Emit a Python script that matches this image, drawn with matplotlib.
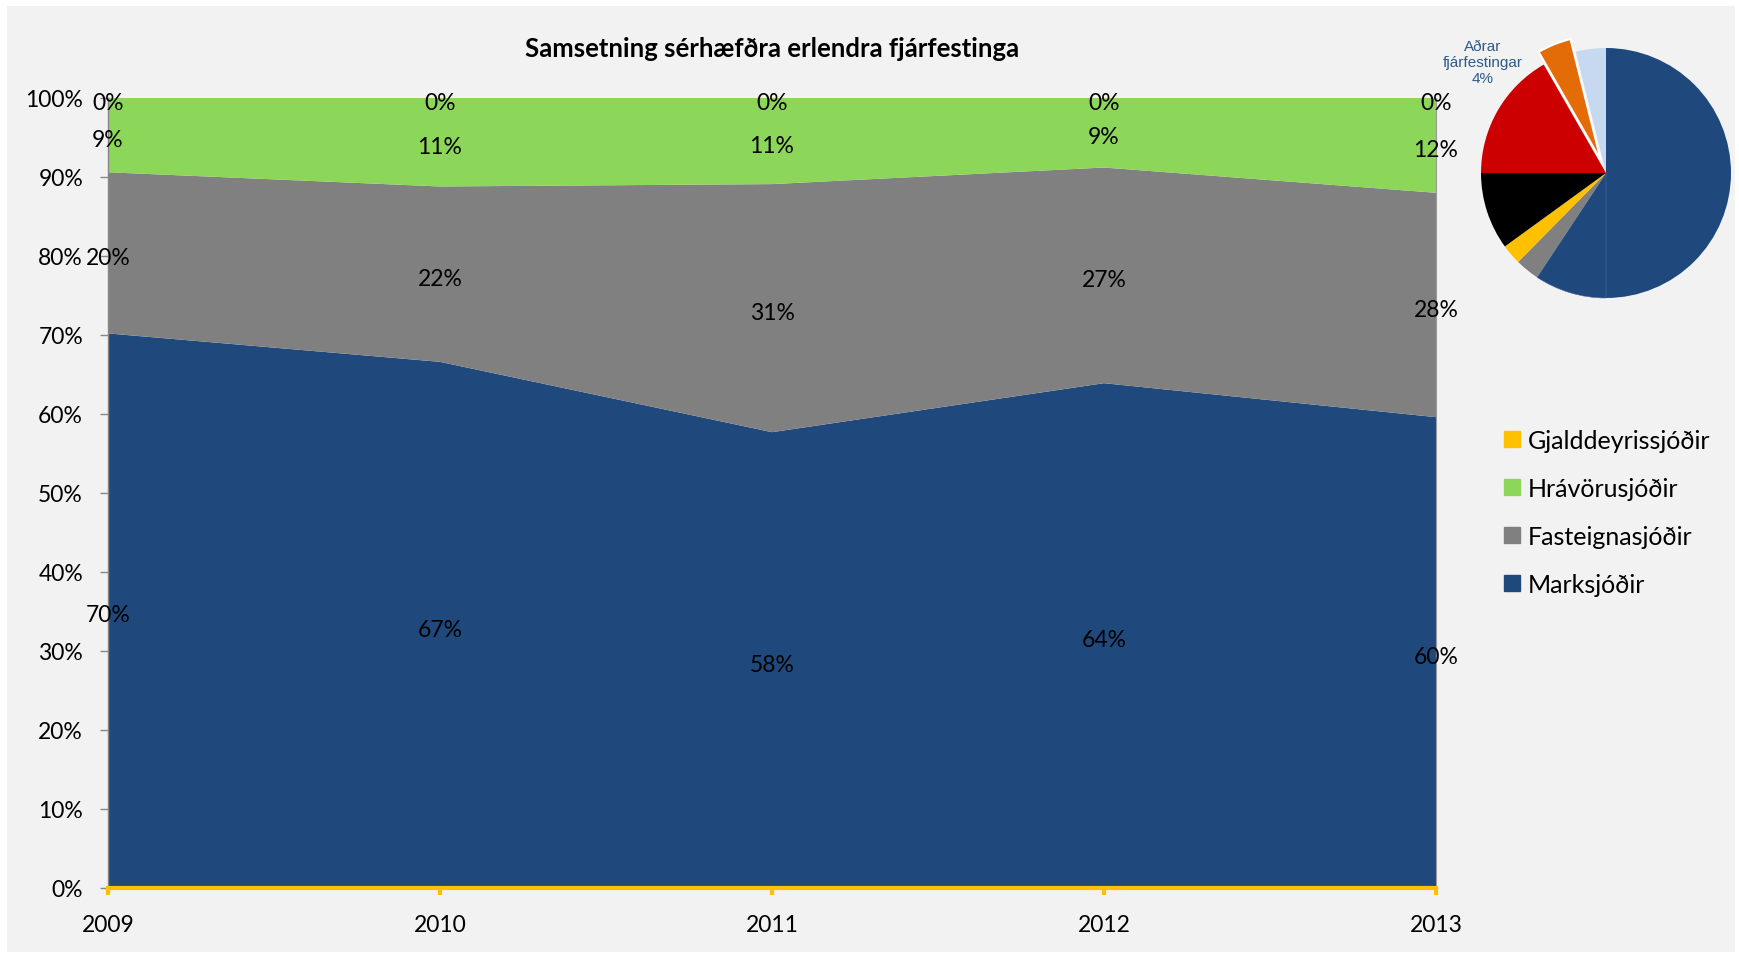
import numpy as np
import matplotlib.pyplot as plt
from matplotlib.patches import Rectangle
from matplotlib.lines import Line2D

plt.rcParams["font.family"] = ["Lato", "DejaVu Sans"]

# Samsetning eftir árum (% af heild)
ar = ["2009", "2010", "2011", "2012", "2013"]
marksjodir = [70.2, 66.6, 57.7, 63.9, 59.6]
fasteignasjodir = [20.4, 22.2, 31.4, 27.3, 28.4]
hravorusjodir = [9.4, 11.2, 10.9, 8.8, 12.0]
gjalddeyrissjodir = [0.0, 0.0, 0.0, 0.0, 0.0]

flokkar = ["Marksjóðir", "Fasteignasjóðir", "Hrávörusjóðir", "Gjalddeyrissjóðir"]
litir = ["#1F497D", "#808080", "#8CD65A", "#FFC000"]

# Skifurit: heildareignir
koku_gildi = [50.0, 9.3, 3.1, 2.6, 10.0, 16.7, 4.4, 3.9]
koku_litir = ["#1F497D", "#1F497D", "#808080", "#FFC000", "#000000",
              "#CC0000", "#E36C09", "#C6D9F1"]
adrar_idx = 6

W, H = 1739, 954
fig = plt.figure(figsize=(W / 100, H / 100), dpi=100)
fig.patch.set_facecolor("white")
fig.add_artist(Rectangle((7 / W, 1 / H), (1735 - 7) / W, (953 - 7) / H,
                         transform=fig.transFigure, facecolor="#F2F2F2",
                         edgecolor="none", zorder=0))

ax = fig.add_axes([108 / W, 1 - 889 / H, (1436 - 108) / W, (889 - 99) / H])
ax.set_facecolor("none")
x = np.arange(len(ar))
radir = [marksjodir, fasteignasjodir, hravorusjodir, gjalddeyrissjodir]
ax.stackplot(x, *radir, colors=litir, linewidth=0)

# gildismerki í miðju hvers lags
botn = np.zeros(len(ar))
for gildi in radir:
    gildi = np.array(gildi)
    for i, v in enumerate(gildi):
        ax.annotate(f"{v:.0f}%", (x[i], botn[i] + v / 2), xytext=(0, -3),
                    textcoords="offset points", ha="center", va="center",
                    fontsize=16.5, color="black", zorder=5)
    botn += gildi

ax.set_xlim(0, len(ar) - 1)
ax.set_ylim(0, 100)
ax.set_yticks(np.arange(0, 101, 10))
ax.set_yticklabels([f"{t}%" for t in range(0, 101, 10)])
ax.set_xticks(x)
ax.set_xticklabels(ar)
ax.tick_params(axis="y", labelsize=16.5, length=6, width=1, color="#868686", pad=12)
ax.tick_params(axis="x", labelsize=16.5, length=5, width=3, color="#FFC000", pad=14)
ax.spines["top"].set_visible(False)
ax.spines["left"].set_color("#868686")
ax.spines["left"].set_linewidth(1)
ax.spines["right"].set_color("#999999")
ax.spines["right"].set_linewidth(0.8)
ax.spines["bottom"].set_color("#FFC000")
ax.spines["bottom"].set_linewidth(3)

fig.text((108 + 1436) / 2 / W, 1 - 49 / H, "Samsetning sérhæfðra erlendra fjárfestinga",
         ha="center", va="center", fontsize=18.5, fontweight="bold")

# skýringar
handles = [Line2D([], [], marker="s", linestyle="none", markersize=11,
                  markerfacecolor=c, markeredgecolor=c)
           for c in litir[::-1]]
fig.legend(handles, flokkar[::-1], loc="upper left",
           bbox_to_anchor=(1502 / W, 1 - 430 / H), frameon=False,
           fontsize=18, handlelength=0.8, handletextpad=0.25, labelspacing=1.0,
           borderpad=0, borderaxespad=0)

# skifurit
r_px = 125
cx, cy = 1606, 174
box = 1.25 * r_px
pax = fig.add_axes([(cx - box) / W, 1 - (cy + box) / H, 2 * box / W, 2 * box / H])
explode = [0.0] * len(koku_gildi)
explode[adrar_idx] = 0.11
wedges, _ = pax.pie(koku_gildi, colors=koku_litir, startangle=90, counterclock=False,
                    explode=explode, wedgeprops=dict(linewidth=0))
wedges[adrar_idx].set_edgecolor("white")
wedges[adrar_idx].set_linewidth(1.5)
wedges[1].set_edgecolor("#4A6A94")
wedges[1].set_linewidth(0.4)
pax.set_xlim(-1.25, 1.25)
pax.set_ylim(-1.25, 1.25)
pax.set_aspect("equal")
pax.axis("off")

fig.text(1483 / W, 1 - 63 / H, f"Aðrar\nfjárfestingar\n{koku_gildi[adrar_idx]:.0f}%",
         ha="center", va="center", fontsize=11, color="#2E5A8A",
         family=["Liberation Sans", "DejaVu Sans"], linespacing=1.2)

fig.savefig("out.png", dpi=100)
